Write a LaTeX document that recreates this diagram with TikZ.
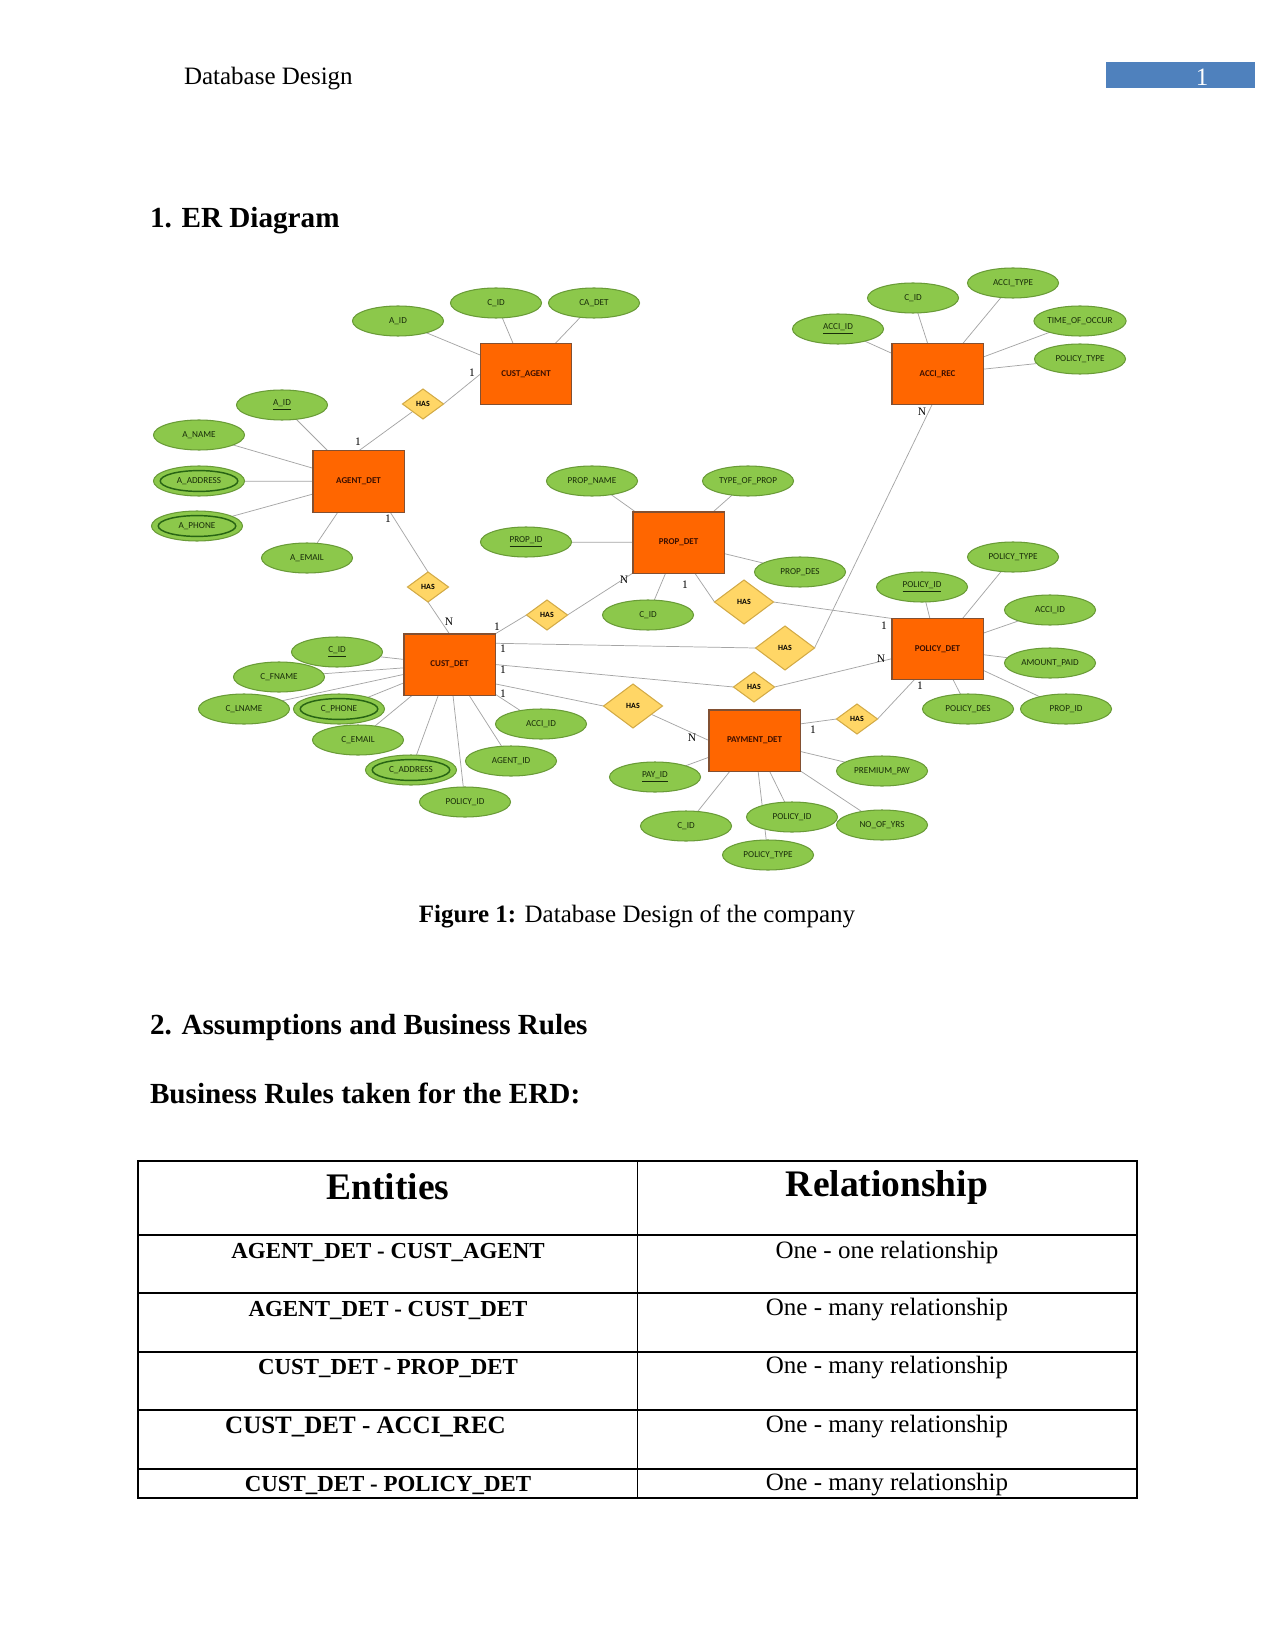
\documentclass[tikz,border=0pt]{standalone}
\usepackage{fontspec}
\setmainfont{Liberation Serif}
\newfontfamily\erfont{Carlito}
\usetikzlibrary{shapes.geometric}
\pgfdeclarelayer{bg}
\pgfsetlayers{bg,main}
\definecolor{attrfill}{RGB}{140,200,75}
\definecolor{attrdraw}{RGB}{105,155,55}
\definecolor{attrdark}{RGB}{40,100,20}
\definecolor{attrtext}{RGB}{25,45,10}
\definecolor{entfill}{RGB}{255,102,0}
\definecolor{entdraw}{RGB}{130,80,50}
\definecolor{enttext}{RGB}{60,15,0}
\definecolor{relfill}{RGB}{255,214,102}
\definecolor{reldraw}{RGB}{210,170,70}
\definecolor{hdrblue}{RGB}{79,129,189}
\definecolor{linegray}{RGB}{165,165,165}
\begin{document}
\begin{tikzpicture}[x=0.48pt,y=-0.48pt,
  every node/.style={inner sep=0pt, outer sep=0pt},
  attr/.style={ellipse, fill=attrfill, draw=attrdraw, line width=0.5pt, minimum width=43.7pt, minimum height=14.4pt, font=\erfont\fontsize{4.4}{5}\selectfont, text=attrtext},
  dbl/.style={path picture={\draw[attrdark, line width=0.7pt] (path picture bounding box.center) ellipse (18.6pt and 5pt);}},
  ent/.style={rectangle, fill=entfill, draw=entdraw, line width=0.5pt, minimum width=43.7pt, minimum height=29.3pt, font=\erfont\bfseries\fontsize{4.3}{5}\selectfont, text=enttext},
  rel/.style={diamond, fill=relfill, draw=reldraw, line width=0.5pt, minimum width=19.7pt, minimum height=14.4pt, font=\erfont\bfseries\fontsize{3.8}{4}\selectfont, text=black},
  relL/.style={rel, minimum width=28.3pt, minimum height=21.1pt},
  conn/.style={draw=linegray, line width=0.35pt},
  card/.style={font=\fontsize{5.5}{6}\selectfont},
  ptext/.style={font=\fontsize{12}{14}\selectfont},
  phead/.style={font=\bfseries\fontsize{14}{16}\selectfont},
]
\useasboundingbox (0,0) rectangle (1275,1650);
\begin{pgfonlayer}{bg}
\fill[white] (0,0) rectangle (1275,1650);
\end{pgfonlayer}

% page header
\node[ptext, anchor=west] (hdr) at (184,79) {Database Design};
\node[fill=hdrblue, minimum width=71.5pt, minimum height=12.5pt, anchor=north west] (pgbox) at (1106,62) {};
\node[ptext, text=white] (pgnum) at (1202,77) {1};
\node[phead, anchor=west] (h1) at (150,221) {1. ER Diagram};

% ===== ER diagram =====
% CUST_AGENT
\node[ent] (ca) at (526,374) {CUST\_AGENT};
\node[attr] (caaid) at (398,321) {A\_ID};
\node[attr] (cacid) at (496,303) {C\_ID};
\node[attr] (cadet) at (594,303) {CA\_DET};
\node[rel] (has1) at (423,404) {HAS};

% AGENT_DET
\node[ent] (ad) at (358.5,481.5) {AGENT\_DET};
\node[attr] (adaid) at (282,405) {\underline{A\_ID}};
\node[attr] (adname) at (199,435) {A\_NAME};
\node[attr, dbl] (adaddr) at (199,481) {A\_ADDRESS};
\node[attr, dbl] (adphone) at (197,526) {A\_PHONE};
\node[attr] (ademail) at (307,558) {A\_EMAIL};
\node[rel] (has2) at (428,587) {HAS};

% CUST_DET
\node[ent] (cd) at (449.5,664.5) {CUST\_DET};
\node[attr] (cdcid) at (337,652) {\underline{C\_ID}};
\node[attr] (cdfname) at (279,677) {C\_FNAME};
\node[attr] (cdlname) at (244,709) {C\_LNAME};
\node[attr, dbl] (cdphone) at (339,709) {C\_PHONE};
\node[attr] (cdemail) at (358,740) {C\_EMAIL};
\node[attr, dbl] (cdaddr) at (411,770) {C\_ADDRESS};
\node[attr] (cdpol) at (465,802) {POLICY\_ID};
\node[attr] (cdagent) at (511,761) {AGENT\_ID};
\node[attr] (cdacci) at (541,724) {ACCI\_ID};
\node[rel] (has3) at (547,615) {HAS};

% PROP_DET
\node[ent] (pd) at (678.5,542.5) {PROP\_DET};
\node[attr] (pdname) at (592,481) {PROP\_NAME};
\node[attr] (pdtype) at (748,481) {TYPE\_OF\_PROP};
\node[attr] (pdid) at (526,542) {\underline{PROP\_ID}};
\node[attr] (pddes) at (800,572) {PROP\_DES};
\node[attr] (pdcid) at (648,615) {C\_ID};
\node[relL] (has7) at (744,602) {HAS};

% ACCI_REC
\node[ent] (ar) at (937.5,374) {ACCI\_REC};
\node[attr] (arid) at (838,329) {\underline{ACCI\_ID}};
\node[attr] (arcid) at (913,298) {C\_ID};
\node[attr] (artype) at (1013,283) {ACCI\_TYPE};
\node[attr] (artime) at (1080,321) {TIME\_OF\_OCCUR};
\node[attr] (arptype) at (1080,359) {POLICY\_TYPE};
\node[relL] (has4) at (785,648) {HAS};

% POLICY_DET
\node[ent] (po) at (937.5,649) {POLICY\_DET};
\node[attr] (poid) at (922,587) {\underline{POLICY\_ID}};
\node[attr] (potype) at (1013,557) {POLICY\_TYPE};
\node[attr] (poacci) at (1050,610) {ACCI\_ID};
\node[attr] (poamt) at (1050,663) {AMOUNT\_PAID};
\node[attr] (poprop) at (1066,709) {PROP\_ID};
\node[attr] (podes) at (968,709) {POLICY\_DES};
\node[rel] (has5) at (754,687) {HAS};

% PAYMENT_DET
\node[ent] (pa) at (754.5,740.5) {PAYMENT\_DET};
\node[attr] (paid) at (655,777) {\underline{PAY\_ID}};
\node[attr] (paprem) at (882,771) {PREMIUM\_PAY};
\node[attr] (pacid) at (686,826) {C\_ID};
\node[attr] (papol) at (792,817) {POLICY\_ID};
\node[attr] (payrs) at (882,825) {NO\_OF\_YRS};
\node[attr] (patype) at (768,855) {POLICY\_TYPE};
\node[relL] (has6) at (633,706) {HAS};
\node[rel] (has8) at (857,719) {HAS};

% cardinalities
\node[card] (k1) at (472,373) {1};
\node[card] (k2) at (358,442) {1};
\node[card] (k3) at (388,519) {1};
\node[card] (k4) at (449,622) {N};
\node[card] (k5) at (497,627) {1};
\node[card] (k6) at (624,580) {N};
\node[card] (k7) at (503,649) {1};
\node[card] (k8) at (503,670) {1};
\node[card] (k9) at (503,694) {1};
\node[card] (k10) at (685,585) {1};
\node[card] (k11) at (922,412) {N};
\node[card] (k12) at (884,626) {1};
\node[card] (k13) at (881,659) {N};
\node[card] (k14) at (920,686) {1};
\node[card] (k15) at (692,738) {N};
\node[card] (k16) at (813,730) {1};

\begin{pgfonlayer}{bg}
% attributes
\foreach \a in {caaid,cacid,cadet} \draw[conn] (ca) -- (\a);
\foreach \a in {adaid,adname,adaddr,adphone,ademail} \draw[conn] (ad) -- (\a);
\foreach \a in {cdcid,cdfname,cdlname,cdphone,cdemail,cdaddr,cdpol,cdagent,cdacci} \draw[conn] (cd) -- (\a);
\foreach \a in {pdname,pdtype,pdid,pddes,pdcid} \draw[conn] (pd) -- (\a);
\foreach \a in {arid,arcid,artype,artime,arptype} \draw[conn] (ar) -- (\a);
\foreach \a in {poid,potype,poacci,poamt,poprop,podes} \draw[conn] (po) -- (\a);
\foreach \a in {paid,paprem,pacid,papol,payrs,patype} \draw[conn] (pa) -- (\a);
% relationships
\draw[conn] (ad.north) -- (has1);
\draw[conn] (has1.east) -- (ca.west);
\draw[conn] (ad.-44) -- (has2.north);
\draw[conn] (has2.south) -- (cd.north);
\draw[conn] (cd.north east) -- (has3.west);
\draw[conn] (has3.east) -- (pd.south west);
\draw[conn] (cd.25) -- (has4.west);
\draw[conn] (has4.east) -- (ar.-100);
\draw[conn] (cd.east) -- (has5.west);
\draw[conn] (has5.east) -- (po.-168);
\draw[conn] (cd.-23) -- (has6.west);
\draw[conn] (has6) -- (pa.west);
\draw[conn] (pd.-62) -- (has7.west);
\draw[conn] (has7.east) -- (po.north west);
\draw[conn] (pa.20) -- (has8.west);
\draw[conn] (has8.east) -- (po.-127);
\end{pgfonlayer}

% caption and headings
\node[ptext] (cap) at (637,916) {\textbf{Figure 1:} Database Design of the company};
\node[phead, anchor=west] (h2) at (150,1027) {2. Assumptions and Business Rules};
\node[phead, anchor=west] (h3) at (150,1093) {Business Rules taken for the ERD:};

% table
\draw[line width=0.5pt] (138,1161) rectangle (1137,1498);
\draw[line width=0.5pt] (637.5,1161) -- (637.5,1498);
\foreach \yy in {1235,1293,1352,1410,1469} \draw[line width=0.5pt] (138,\yy) -- (1137,\yy);
\node[font=\bfseries\fontsize{18}{20}\selectfont] (th1) at (388,1187) {Entities};
\node[font=\bfseries\fontsize{18}{20}\selectfont] (th2) at (887,1187) {Relationship};
\node[font=\bfseries\fontsize{11}{13}\selectfont] (r1a) at (388,1252) {AGENT\_DET - CUST\_AGENT};
\node[font=\bfseries\fontsize{11}{13}\selectfont] (r2a) at (388,1310) {AGENT\_DET - CUST\_DET};
\node[font=\bfseries\fontsize{11}{13}\selectfont] (r3a) at (388,1368) {CUST\_DET - PROP\_DET};
\node[font=\bfseries\fontsize{12}{14}\selectfont] (r4a) at (365.5,1427) {CUST\_DET - ACCI\_REC};
\node[font=\bfseries\fontsize{11}{13}\selectfont] (r5a) at (388,1485) {CUST\_DET - POLICY\_DET};
\node[ptext] (r1b) at (887,1252) {One - one relationship};
\node[ptext] (r2b) at (887,1310) {One - many relationship};
\node[ptext] (r3b) at (887,1368) {One - many relationship};
\node[ptext] (r4b) at (887,1427) {One - many relationship};
\node[ptext] (r5b) at (887,1485) {One - many relationship};
\end{tikzpicture}
\end{document}
